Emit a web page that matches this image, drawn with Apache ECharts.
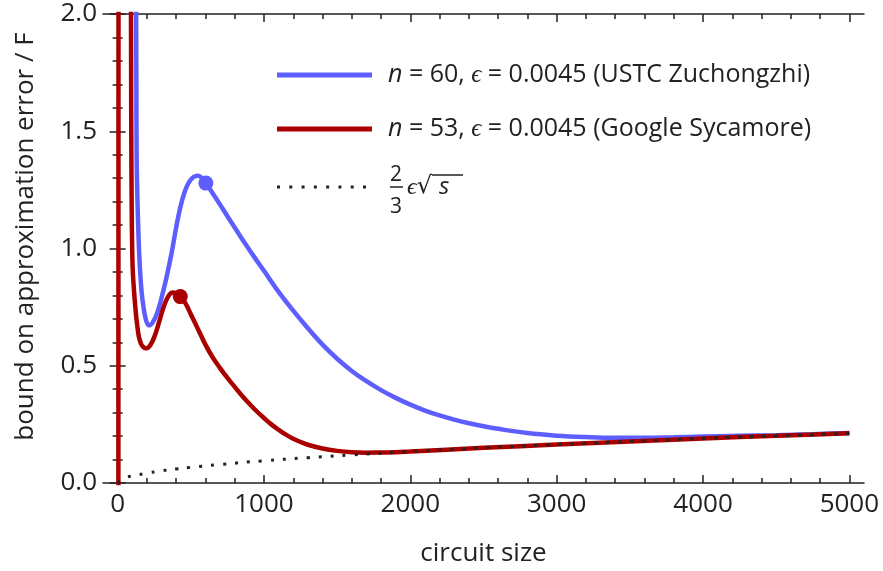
<!DOCTYPE html>
<html><head><meta charset="utf-8">
<script src="https://cdn.jsdelivr.net/npm/echarts@6/dist/echarts.min.js"></script>
<style>html,body{margin:0;padding:0;background:#fff}#c{width:883px;height:571px}</style>
</head><body><div id="c"></div>
<script>
// ---- data ----
const xMajorTicks = [0, 1000, 2000, 3000, 4000, 5000];
const xMinorTicks = [200, 400, 600, 800, 1200, 1400, 1600, 1800, 2200, 2400, 2600, 2800,
                     3200, 3400, 3600, 3800, 4200, 4400, 4600, 4800];
const yTickLabels = ['0.0', '0.5', '1.0', '1.5', '2.0'];

const nameUSTC = 'n = 60, ϵ = 0.0045 (USTC Zuchongzhi)';
const nameGoogle = 'n = 53, ϵ = 0.0045 (Google Sycamore)';
const nameSqrt = '2/3 ϵ √s';

// blue curve, n = 60
const ustcData = [
  [125, 2.3], [128, 1.7], [130, 1.38], [137, 1.17], [147, 0.98], [158, 0.86], [170, 0.78],
  [193, 0.696], [215, 0.672], [240, 0.685], [270, 0.725], [300, 0.79], [335, 0.88],
  [370, 0.985], [400, 1.09], [430, 1.18], [460, 1.245], [490, 1.285], [520, 1.305],
  [550, 1.31], [580, 1.298], [603, 1.279], [650, 1.235], [700, 1.187], [760, 1.128],
  [820, 1.07], [880, 1.013], [940, 0.958], [1000, 0.905], [1100, 0.815], [1200, 0.735],
  [1300, 0.66], [1400, 0.59], [1500, 0.53], [1600, 0.478], [1700, 0.434], [1800, 0.396],
  [1900, 0.363], [2000, 0.334], [2100, 0.309], [2200, 0.288], [2300, 0.27], [2400, 0.255],
  [2500, 0.242], [2600, 0.231], [2800, 0.213], [3000, 0.202], [3200, 0.196], [3400, 0.193],
  [3600, 0.193], [3800, 0.195], [4000, 0.198], [4250, 0.201], [4500, 0.204], [4750, 0.208],
  [5000, 0.213]
];
// red curve, n = 53 (pole near s = 5, then second branch)
const googleData = [
  [5, -0.5], [6, 2.5], [40, null],
  [90, 2.3], [92, 1.8], [94, 1.38], [101, 0.95], [113, 0.81], [135, 0.667], [158, 0.597],
  [197, 0.575], [225, 0.59], [255, 0.63], [285, 0.69], [315, 0.752], [345, 0.795],
  [375, 0.812], [400, 0.81], [428, 0.795], [460, 0.77], [500, 0.72], [550, 0.655],
  [600, 0.59], [650, 0.535], [700, 0.49], [750, 0.448], [800, 0.41], [850, 0.372],
  [900, 0.338], [950, 0.306], [1000, 0.277], [1050, 0.25], [1100, 0.227], [1150, 0.206],
  [1200, 0.189], [1250, 0.175], [1300, 0.163], [1400, 0.147], [1500, 0.137], [1600, 0.131],
  [1700, 0.129], [1800, 0.13], [1900, 0.131], [2000, 0.134], [2500, 0.15], [3000, 0.164],
  [3500, 0.177], [4000, 0.19], [4500, 0.201], [5000, 0.212]
];
// dotted reference curve
const sqrtData = [
  [0, 0], [50, 0.021], [100, 0.03], [200, 0.042], [300, 0.052], [400, 0.06], [500, 0.067],
  [700, 0.079], [1000, 0.095], [1300, 0.108], [1600, 0.12], [2000, 0.134], [2500, 0.15],
  [3000, 0.164], [3500, 0.177], [4000, 0.19], [4500, 0.201], [5000, 0.212]
];
const ustcMarker = [[603, 1.279]];
const googleMarker = [[428, 0.795]];

// ---- styles ----
const BLUE = '#5e5eff';
const RED = '#aa0000';
const INK = '#222222';
const FONT = 'Open Sans';

const frameLine = { show: true, lineStyle: { color: INK, width: 1.5 } };
const xRange = { type: 'value', min: -100, max: 5100, splitLine: { show: false } };

function xAxisDef(position, ticks, len, withLabels, withLine) {
  return Object.assign({}, xRange, {
    position: position,
    axisLine: withLine ? frameLine : { show: false },
    axisTick: { show: true, inside: true, length: len, customValues: ticks,
                lineStyle: { color: INK, width: 1.5 } },
    axisLabel: withLabels ? { show: true, customValues: ticks, fontFamily: FONT, fontSize: 26,
                              color: INK, margin: 9, formatter: v => String(v) } : { show: false },
  });
}

const xAxes = [
  Object.assign(xAxisDef('bottom', xMajorTicks, 8, true, true), {
    name: 'circuit size', nameLocation: 'middle', nameGap: 58,
    nameTextStyle: { fontFamily: FONT, fontSize: 26, color: INK }
  }),
  xAxisDef('bottom', xMinorTicks, 5, false, false),
  xAxisDef('top', xMajorTicks, 8, false, true),
  xAxisDef('top', xMinorTicks, 5, false, false)
];

function yAxisDef(position, withLabels) {
  return {
    type: 'value', min: 0, max: 2, interval: 0.5, position: position,
    splitLine: { show: false },
    axisLine: frameLine,
    axisTick: { show: true, inside: true, length: 8, lineStyle: { color: INK, width: 1.5 } },
    minorTick: { show: true, splitNumber: 5, length: 5, lineStyle: { color: INK, width: 1.5 } },
    axisLabel: withLabels ? {
      show: true, fontFamily: FONT, fontSize: 26, color: INK, margin: 6,
      formatter: v => yTickLabels[Math.round(v / 0.5)]
    } : { show: false }
  };
}
const yAxes = [
  Object.assign(yAxisDef('left', true), {
    name: 'bound on approximation error / F', nameLocation: 'middle', nameGap: 64,
    nameTextStyle: { fontFamily: FONT, fontSize: 26, color: INK, padding: [0, 0, 0, 24] }
  }),
  yAxisDef('right', false)
];

const legendRich = {
  i: { fontStyle: 'italic', fontFamily: FONT, fontSize: 25, color: INK },
  num: { width: 13, fontFamily: FONT, fontSize: 21, lineHeight: 12, color: INK },
  gap: { width: 29, fontSize: 12, lineHeight: 12 },
  ov: { width: 31, height: 1.5, fontSize: 2, lineHeight: 12, backgroundColor: INK },
  bar: { width: 13, height: 1.5, fontSize: 2, lineHeight: 12, backgroundColor: INK },
  eps: { fontStyle: 'italic', fontFamily: FONT, fontSize: 24, lineHeight: 12, color: INK, padding: [0, 0, 0, 4] },
  rt: { fontFamily: 'DejaVu Sans', fontSize: 24, lineHeight: 12, color: INK },
  s: { fontStyle: 'italic', fontFamily: FONT, fontSize: 24, lineHeight: 12, color: INK, padding: [0, 0, 0, 7] },
  den: { width: 13, fontFamily: FONT, fontSize: 21, lineHeight: 28, color: INK }
};
function legendFormatter(name) {
  if (name === nameUSTC) return '{i|n} = 60, {i|ϵ} = 0.0045 (USTC Zuchongzhi)';
  if (name === nameGoogle) return '{i|n} = 53, {i|ϵ} = 0.0045 (Google Sycamore)';
  return '{num|2}{gap| }{ov| }\n{bar| }{eps|ϵ}{rt|√}{s|s}\n{den|3}';
}
function legendDef(name, top, icon, w, h, padLeft, padTop) {
  return {
    data: [name], left: 277, top: top, orient: 'vertical', padding: 0,
    selectedMode: false, icon: icon, itemWidth: w, itemHeight: h,
    itemStyle: { borderWidth: 0 },
    formatter: legendFormatter,
    textStyle: { fontFamily: FONT, fontSize: 25, color: INK, lineHeight: 28,
                 padding: [padTop, 0, 0, padLeft], rich: legendRich }
  };
}
const dotsPath = 'path://M0,0h3v3h-3z M12.3,0h3v3h-3z M24.6,0h3v3h-3z M36.9,0h3v3h-3z ' +
                 'M49.2,0h3v3h-3z M61.5,0h3v3h-3z M73.8,0h3v3h-3z M86.1,0h3v3h-3z';

const option = {
  animation: false,
  backgroundColor: '#ffffff',
  grid: { left: 103, right: 19, top: 14, bottom: 88, containLabel: false, outerBoundsMode: 'none' },
  xAxis: xAxes,
  yAxis: yAxes,
  legend: [
    legendDef(nameUSTC, 61, 'rect', 95, 5, 11, 0),
    legendDef(nameGoogle, 115, 'rect', 95, 5, 11, 0),
    legendDef(nameSqrt, 153, dotsPath, 89, 3, 19, 16)
  ],
  series: [
    { type: 'line', name: nameUSTC, data: ustcData, color: BLUE, symbol: 'none', smooth: 0.4,
      clip: true, lineStyle: { color: BLUE, width: 4.5 }, z: 2 },
    { type: 'line', name: nameGoogle, data: googleData, color: RED, symbol: 'none', smooth: 0.4,
      clip: true, connectNulls: false, lineStyle: { color: RED, width: 4.5 }, z: 3 },
    { type: 'line', name: nameSqrt, data: sqrtData, color: INK, symbol: 'none', smooth: 0.4,
      clip: true, lineStyle: { color: INK, width: 3, type: [3, 9] }, z: 4 },
    { type: 'scatter', data: ustcMarker, color: BLUE, symbolSize: 15, z: 5,
      itemStyle: { opacity: 1, color: BLUE } },
    { type: 'scatter', data: googleMarker, color: RED, symbolSize: 15, z: 5,
      itemStyle: { opacity: 1, color: RED } }
  ]
};
const chart = echarts.init(document.getElementById('c'));
chart.setOption(option);
</script></body></html>
